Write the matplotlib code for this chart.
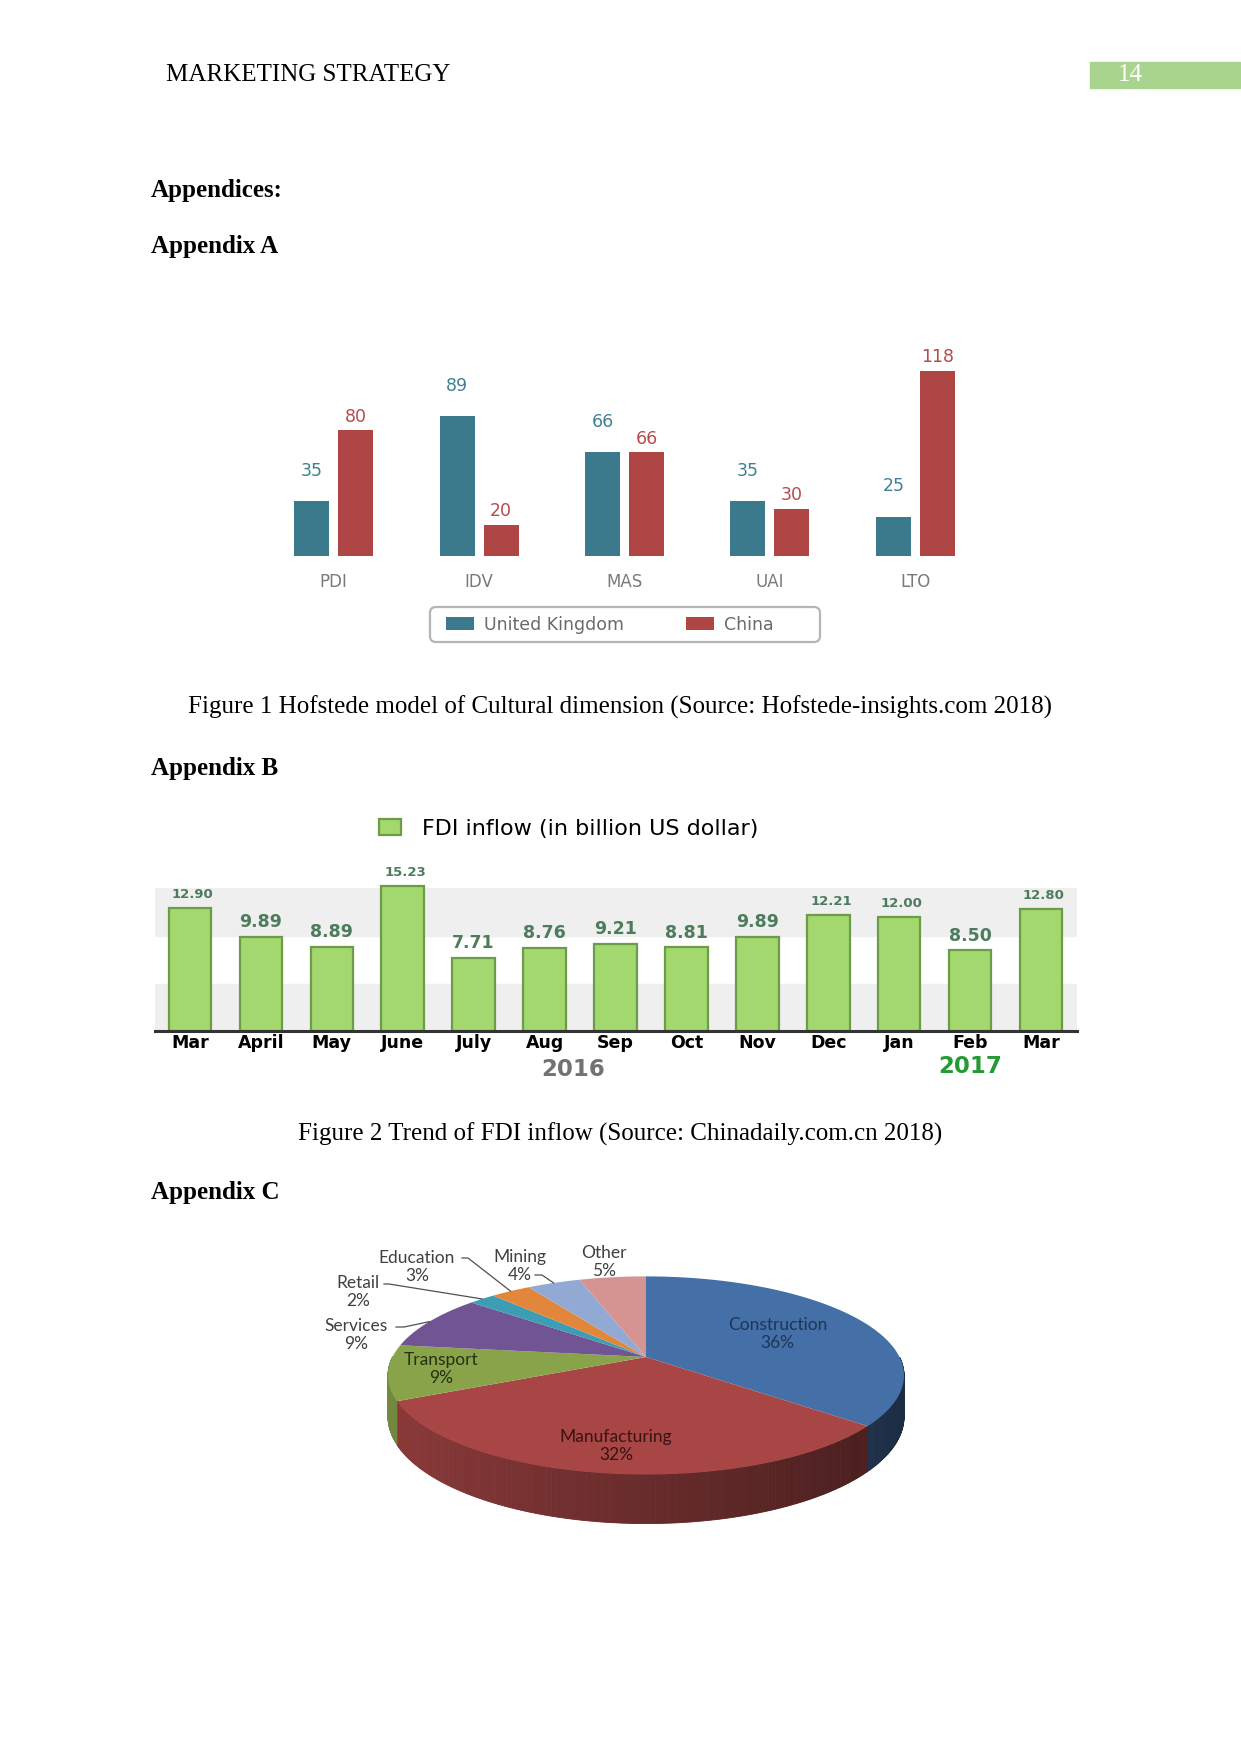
import numpy as np
import matplotlib
matplotlib.use('Agg')
import matplotlib.pyplot as plt
from matplotlib.patches import Rectangle, FancyBboxPatch
from matplotlib.path import Path
from matplotlib.transforms import Transform

W, H = 1241, 1754

# Appendix A - Hofstede dimensions
dims = ['PDI', 'IDV', 'MAS', 'UAI', 'LTO']
uk_vals = [35, 89, 66, 35, 25]
china_vals = [80, 20, 66, 30, 118]

# Appendix B - FDI inflow
months = ['Mar', 'April', 'May', 'June', 'July', 'Aug', 'Sep', 'Oct', 'Nov', 'Dec', 'Jan', 'Feb', 'Mar']
fdi_vals = [12.90, 9.89, 8.89, 15.23, 7.71, 8.76, 9.21, 8.81, 9.89, 12.21, 12.00, 8.50, 12.80]
fdi_small = [True, False, False, True, False, False, False, False, False, True, True, False, True]

# Appendix C - FDI by sector
sectors = ['Construction', 'Manufacturing', 'Transport', 'Services', 'Retail', 'Education', 'Mining', 'Other']
shares = [36, 32, 9, 9, 2, 3, 4, 5]
sector_colors = ['#4570a7', '#a84545', '#89a34b', '#715493', '#3d9db5', '#e2863b', '#92aad3', '#d59392']

SERIF = 'Liberation Serif'


def px_axes(fig, x0, y0, x1, y1):
    return fig.add_axes([x0 / W, 1 - y1 / H, (x1 - x0) / W, (y1 - y0) / H])


def ftext(fig, x, y, s, **kw):
    kw.setdefault('va', 'center')
    return fig.text(x / W, 1 - y / H, s, **kw)


fig = plt.figure(figsize=(W / 100, H / 100), dpi=100)

# page decoration layer in pixel units (drawn first, under the charts)
deco = fig.add_axes([0, 0, 1, 1])
deco.set_xlim(0, W)
deco.set_ylim(H, 0)
deco.axis('off')
deco.add_patch(Rectangle((1090, 62), 150, 26, color='#a9d48e'))
deco.add_patch(FancyBboxPatch((436, 613), 378, 23, boxstyle='round,pad=6',
                              fc='white', ec='#b5b5b5', lw=1.6))

# ---- page header and headings
ftext(fig, 166, 75, 'MARKETING STRATEGY', family=SERIF, fontsize=18)
ftext(fig, 1118, 75, '14', family=SERIF, fontsize=18, color='white')
ftext(fig, 151, 190, 'Appendices:', family=SERIF, fontsize=18, weight='bold')
ftext(fig, 151, 247, 'Appendix A', family=SERIF, fontsize=18, weight='bold')
ftext(fig, 620, 707, 'Figure 1 Hofstede model of Cultural dimension (Source: Hofstede-insights.com 2018)',
      family=SERIF, fontsize=18, ha='center')
ftext(fig, 151, 768, 'Appendix B', family=SERIF, fontsize=18, weight='bold')
ftext(fig, 620, 1134, 'Figure 2 Trend of FDI inflow (Source: Chinadaily.com.cn 2018)',
      family=SERIF, fontsize=18, ha='center')
ftext(fig, 151, 1193, 'Appendix C', family=SERIF, fontsize=18, weight='bold')

# ---- Appendix A: grouped bars
uk_c, cn_c = '#3b7a8c', '#b04545'
ax1 = px_axes(fig, 261, 352, 988, 556)
x = np.arange(len(dims))
ax1.bar(x - 0.151, uk_vals, 0.24, color=uk_c, label='United Kingdom')
ax1.bar(x + 0.151, china_vals, 0.24, color=cn_c, label='China')
for xi, v in zip(x, uk_vals):
    ax1.annotate(str(v), (xi - 0.151, v), xytext=(0, 22), textcoords='offset points',
                 ha='center', va='center', color='#3f8094', fontsize=12.5)
for xi, v in zip(x, china_vals):
    ax1.annotate(str(v), (xi + 0.151, v), xytext=(0, 10), textcoords='offset points',
                 ha='center', va='center', color='#b64a4c', fontsize=12.5, annotation_clip=False)
ax1.set_xlim(-0.5, 4.5)
ax1.set_ylim(0, 130)
ax1.set_xticks(x, dims, color='#7a7a7a', fontsize=12)
ax1.tick_params(axis='x', length=0, pad=12)
ax1.set_yticks([])
ax1.patch.set_visible(False)
for s in ax1.spines.values():
    s.set_visible(False)
leg = ax1.legend(loc='center left', bbox_to_anchor=(446 / W, 1 - 624.5 / H), bbox_transform=fig.transFigure,
                 ncol=2, frameon=False, fontsize=12.5, borderpad=0, borderaxespad=0,
                 handlelength=1.6, handleheight=0.85, handletextpad=0.57, columnspacing=3.6)
for t in leg.get_texts():
    t.set_color('#6a6a6a')

# ---- Appendix B: FDI bars
ax2 = px_axes(fig, 154.5, 888.5, 1076.5, 1031)
xm = np.arange(len(months))
ax2.axhspan(0, 5, color='#efefef', zorder=0)
ax2.axhspan(10, 15, color='#efefef', zorder=0)
ax2.bar(xm, fdi_vals, 0.6, color='#a3d86e', edgecolor='#6c9c4a', linewidth=1.6,
        clip_on=False, zorder=2, label='FDI inflow (in billion US dollar)')
for xi, v, small in zip(xm, fdi_vals, fdi_small):
    ax2.annotate(f'{v:.2f}', (xi, v), xytext=(2 if small else 0, 9.7 if small else 10.5),
                 textcoords='offset points', ha='center', va='center', color='#4d7c5c',
                 weight='bold', fontsize=9.5 if small else 12.5, annotation_clip=False)
ax2.set_xlim(-0.5, 12.5)
ax2.set_ylim(0, 15)
ax2.set_xticks(xm, months, fontsize=12.5, weight='bold')
ax2.tick_params(axis='x', length=0, pad=2)
ax2.set_yticks([])
for k in ['top', 'left', 'right']:
    ax2.spines[k].set_visible(False)
ax2.spines['bottom'].set_color('#333333')
ax2.spines['bottom'].set_linewidth(2.2)
ax2.text(5.4, -0.267, '2016', transform=ax2.get_xaxis_transform(), ha='center', va='center',
         fontsize=16.5, weight='bold', color='#727272')
ax2.text(11.0, -0.246, '2017', transform=ax2.get_xaxis_transform(), ha='center', va='center',
         fontsize=16.5, weight='bold', color='#249a34')
ax2.legend(loc='center left', bbox_to_anchor=(379 / W, 1 - 829 / H), bbox_transform=fig.transFigure,
           frameon=False, borderpad=0, borderaxespad=0, handlelength=1.0, handleheight=0.75,
           handletextpad=0.95, fontsize=16)


# ---- Appendix C: tilted 3D-looking pie
class Tilt(Transform):
    input_dims = output_dims = 2

    def __init__(self, a, c, k):
        super().__init__()
        self.a, self.c, self.k = a, c, k

    def transform_non_affine(self, values):
        v = np.asarray(values, float).reshape(-1, 2)
        d = 1 + self.k * v[:, 1]
        return np.column_stack([self.a * v[:, 0] / d, self.c * v[:, 1] / d])

    def transform_path_non_affine(self, path):
        pts = [seg(np.linspace(0, 1, 24)) for seg, code in path.iter_bezier()]
        return Path(self.transform_non_affine(np.concatenate(pts)))


A, C, K, DEPTH = 253.5, 95.6, 0.186, 40
tilt = Tilt(A, C, K)


def tp(r, ang):
    t = np.radians(ang)
    return tilt.transform_non_affine([[r * np.cos(t), r * np.sin(t)]])[0]


ax3 = px_axes(fig, 280, 1230, 960, 1560)
wedges, _ = ax3.pie(shares, startangle=90, counterclock=False, colors=sector_colors,
                    wedgeprops=dict(linewidth=0))
ax3.set_aspect('auto')
ax3.set_xlim(-366, 314)
ax3.set_ylim(-203, 127)
ax3.axis('off')
for w in wedges:
    w.set_transform(tilt + ax3.transData)
    w.set_zorder(3)
    w.set_clip_on(False)

# side walls of the front half
for w, col in zip(wedges, sector_colors):
    base = np.array(matplotlib.colors.to_rgb(col))
    ths = np.append(np.arange(w.theta1, w.theta2, 0.5), w.theta2)
    for a0, a1 in zip(ths[:-1], ths[1:]):
        mid = np.radians((a0 + a1) / 2)
        if np.sin(mid) >= 0:
            continue
        p0, p1 = tp(1, a0), tp(1, a1)
        d0 = DEPTH / (1 + K * np.sin(np.radians(a0)))
        d1 = DEPTH / (1 + K * np.sin(np.radians(a1)))
        shade = 0.62 - 0.23 * np.cos(mid)
        c = tuple(base * shade)
        ax3.fill([p0[0], p1[0], p1[0], p0[0]], [p0[1], p1[1], p1[1] - d1, p0[1] - d0],
                 color=c, lw=0.6, ec=c, zorder=1)

mids = [(w.theta1 + w.theta2) / 2 for w in wedges]
inside = {'Construction': (0.6, '#1d3557'), 'Manufacturing': (0.8, '#3a1212'), 'Transport': (0.8, '#263010')}
for name, share, m in zip(sectors, shares, mids):
    if name in inside:
        r, tc = inside[name]
        px, py = tp(r, m)
        ax3.text(px, py, f'{name}\n{share}%', ha='center', va='center', fontsize=12.5,
                 family='Lato', color=tc, zorder=5, linespacing=1.15)

outside = {'Services': (-290, 22), 'Retail': (-288, 65), 'Education': (-229, 90),
           'Mining': (-126, 91), 'Other': (-42, 95)}
leaders = {'Services': (-250, 30, -242), 'Retail': (-262, 73, -257), 'Education': (-184, 99, -178),
           'Mining': (-111, 82, -104)}
for name, share, m in zip(sectors, shares, mids):
    if name in outside:
        tx, ty = outside[name]
        ax3.text(tx, ty, f'{name}\n{share}%', ha='center', va='center', fontsize=12.5,
                 family='Lato', color='#404040', zorder=5, linespacing=1.15)
    if name in leaders:
        lx, ly, ex = leaders[name]
        end = tp(1, m)
        ax3.plot([lx, ex, end[0]], [ly, ly, end[1]], color='#505050', lw=0.9, zorder=4)

fig.savefig('out.png', dpi=100)
